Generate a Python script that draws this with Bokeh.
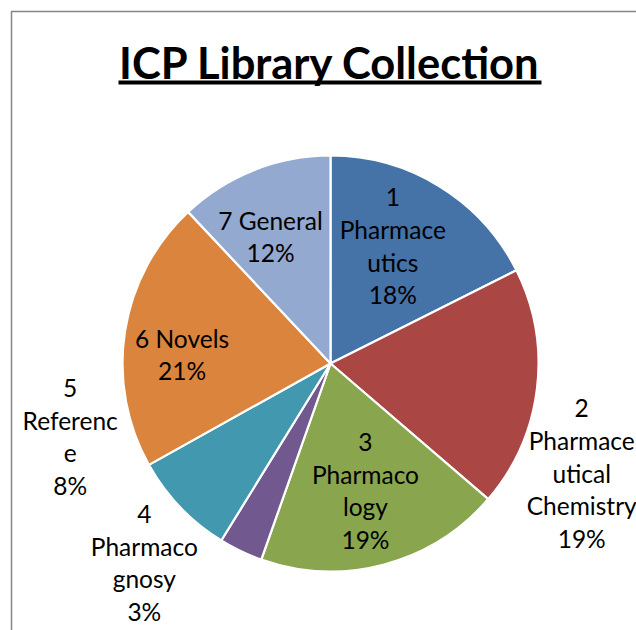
import math
from bokeh.plotting import figure
from bokeh.models import Range1d
from bokeh.core.properties import value
from bokeh.embed import file_html
from bokeh.resources import INLINE

# ---------------- data ----------------
TITLE = "ICP Library Collection"
categories = ["1 Pharmaceutics", "2 Pharmaceutical Chemistry", "3 Pharmacology",
              "4 Pharmacognosy", "5 Reference", "6 Novels", "7 General"]
shares = [17.6, 18.7, 19.1, 3.4, 8.1, 21.1, 12.0]   # percent
# labels wrapped as in the picture
label_lines = [["1", "Pharmace", "utics"],
               ["2", "Pharmace", "utical", "Chemistry"],
               ["3", "Pharmaco", "logy"],
               ["4", "Pharmaco", "gnosy"],
               ["5", "Referenc", "e"],
               ["6 Novels"],
               ["7 General"]]
colors = ["#4572A7", "#AA4643", "#89A54E", "#71588F", "#4198AF", "#DB843D", "#93A9CF"]

# ---------------- layout (page pixels; data y = 630 - page y) ----------------
W, H = 636, 630
def Y(py):
    return 630 - py

CX, CY, R = 330, Y(363), 208
# label block centre: (angle clockwise from top in degrees, distance / R)
label_layout = [(27.9, 0.64), (113.6, 1.318), (164.6, 0.633), (223.1, 1.31),
                (254.3, 1.30), (273.5, 0.715), (334.7, 0.675)]
LINE_STEP = 32.5
FONT = "Lato"

p = figure(width=W, height=H, output_backend="svg", toolbar_location=None,
           x_range=Range1d(0, W), y_range=Range1d(0, H),
           min_border=0, min_border_left=0, min_border_right=0,
           min_border_top=0, min_border_bottom=0)
p.axis.visible = False
p.grid.visible = False
p.outline_line_color = None
p.background_fill_color = "white"
p.border_fill_color = "white"

# chart-area border (left and top edges visible)
p.line(x=[11, 11, 700], y=[Y(700), Y(11), Y(11)], line_color="#868686", line_width=1.5)

# wedges
total = sum(shares)
starts, ends = [], []
cum = 0.0
for s in shares:
    a0 = math.pi / 2 - 2 * math.pi * cum / total
    cum += s
    a1 = math.pi / 2 - 2 * math.pi * cum / total
    starts.append(a0)
    ends.append(a1)
p.wedge(x=[CX] * len(shares), y=[CY] * len(shares), radius=R,
        start_angle=starts, end_angle=ends, direction="clock",
        fill_color=colors, line_color="white", line_width=2.2)

# data labels
tx, ty, tt = [], [], []
for lines, share, (ang, f) in zip(label_lines, shares, label_layout):
    allines = lines + ["%d%%" % round(share)]
    a = math.radians(ang)
    bx = CX + f * R * math.sin(a)
    by = CY + f * R * math.cos(a)
    n = len(allines)
    for i, t in enumerate(allines):
        tx.append(bx)
        ty.append(by - (i - (n - 1) / 2) * LINE_STEP)
        tt.append(t)
p.text(x=tx, y=ty, text=tt, text_font=value(FONT), text_font_size="24.5px",
       text_align="center", text_baseline="middle", text_color="black")

# title with underline
p.text(x=[329.5], y=[Y(61)], text=[TITLE], text_font=value(FONT),
       text_font_style="bold", text_font_size="43.5px", text_align="center",
       text_baseline="middle", text_color="black")
p.quad(left=[118], right=[541], bottom=[Y(84)], top=[Y(80)],
       fill_color="black", line_color=None)

open("out.html", "w").write(file_html(p, INLINE))
